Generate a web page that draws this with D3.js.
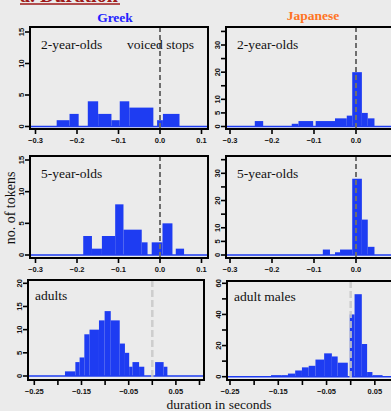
<!DOCTYPE html>
<html>
<head>
<meta charset="utf-8">
<script src="https://cdn.jsdelivr.net/npm/d3@7"></script>
<style>
  body { margin: 0; background: #ebebeb; }
  svg { display: block; }
</style>
</head>
<body>
<svg id="chart" width="391" height="411"></svg>
<script>
// bin edges in seconds (0 = release), counts = no. of tokens per bin
const greek2Edges = [-0.249, -0.218, -0.196, -0.174, -0.149, -0.117, -0.097, -0.074, -0.016, -0.007, 0.007, 0.047];
const greek2Counts = [1, 2, 0, 4, 2, 1, 4, 3, 0, 1, 2];

const japanese2Edges = [-0.241, -0.221, -0.153, -0.137, -0.102, -0.096, -0.05, -0.022, -0.009, 0.014, 0.028, 0.044];
const japanese2Counts = [2, 0, 1, 2, 0, 2, 3, 4, 20, 5, 3];

const greek5Edges = [-0.185, -0.164, -0.140, -0.108, -0.088, -0.044, -0.030, -0.020, 0.006, 0.030, 0.038, 0.058];
const greek5Counts = [3, 1, 3, 8, 4, 2, 0, 2, 5, 0, 1];

const japanese5Edges = [-0.079, -0.062, -0.05, -0.038, -0.009, 0.014, 0.028, 0.044];
const japanese5Counts = [2, 0, 1, 2, 28, 13, 3];

const greekAdultEdges = [-0.185, -0.163, -0.154, -0.144, -0.133, -0.113, -0.101, -0.088, -0.069, -0.058, -0.049, -0.042, -0.028, -0.017, 0.006, 0.024, 0.032];
const greekAdultCounts = [1, 3, 4, 9, 10, 12, 14, 12, 7, 5, 2, 3, 2, 0, 3, 2];

const japaneseAdultEdges = [-0.165, -0.144, -0.13, -0.115, -0.101, -0.087, -0.073, -0.055, -0.039, -0.027, -0.006, -0.002, 0.008, 0.023, 0.034, 0.045, 0.066];
const japaneseAdultCounts = [1, 1, 2, 4, 6, 7, 11, 15, 13, 9, 0, 40, 53, 21, 3, 1];

// axis ticks
const childXTicks = [-0.3, -0.2, -0.1, 0.0, 0.1];
const adultXTicks = [-0.25, -0.2, -0.15, -0.1, -0.05, 0, 0.05, 0.1];
const adultXLabels = [-0.25, -0.15, -0.05, 0.05];
const greekChildYTicks = [0, 5, 10, 15];
const japaneseChildYTicks = [0, 5, 10, 15, 20, 25, 30, 35];
const japaneseChildYLabels = [0, 5, 10, 20, 30];
const greekAdultYTicks = [0, 5, 10, 15, 20];
const japaneseAdultYTicks = [0, 10, 20, 30, 40, 50, 60];
const japaneseAdultYLabels = [0, 20, 40, 60];

const svg = d3.select('#chart');
const blue = '#1e3cf2';

// title (mostly cut off at the top, as in the source)
svg.append('text')
  .attr('x', 20).attr('y', 2)
  .attr('font-family', 'Liberation Serif, serif')
  .attr('font-weight', 'bold')
  .attr('font-size', 20)
  .attr('fill', '#9e1a1a')
  .text('a. Duration');
svg.append('line')
  .attr('x1', 20).attr('x2', 120).attr('y1', 4).attr('y2', 4)
  .attr('stroke', '#9e1a1a').attr('stroke-width', 1.5);

// column headers
svg.append('text')
  .attr('x', 115).attr('y', 22)
  .attr('text-anchor', 'middle')
  .attr('font-family', 'Liberation Serif, serif')
  .attr('font-weight', 'bold').attr('font-size', 13.5)
  .attr('fill', '#2222ff')
  .text('Greek');
svg.append('text')
  .attr('x', 313).attr('y', 20)
  .attr('text-anchor', 'middle')
  .attr('font-family', 'Liberation Serif, serif')
  .attr('font-weight', 'bold').attr('font-size', 13.5)
  .attr('fill', '#ff7424')
  .text('Japanese');

const panels = [
  {edges: greek2Edges, counts: greek2Counts, label: '2-year-olds', extra: 'voiced stops',
   fx: [30, 208], fy: [27, 129], xd: [-0.3, 0], xr: [35.5, 160], yd: [0, 15], yr: [126.5, 32],
   xTicks: childXTicks, xLabels: childXTicks, fmt: d3.format('.1f'),
   yTicks: greekChildYTicks, yLabels: greekChildYTicks, dash: '#6e6e6e', adult: false},
  {edges: japanese2Edges, counts: japanese2Counts, label: '2-year-olds',
   fx: [226, 400], fy: [27, 129], xd: [-0.3, 0], xr: [230, 356], yd: [0, 30], yr: [126.5, 45],
   xTicks: childXTicks, xLabels: childXTicks, fmt: d3.format('.1f'),
   yTicks: japaneseChildYTicks, yLabels: japaneseChildYLabels, dash: '#6e6e6e', adult: false},
  {edges: greek5Edges, counts: greek5Counts, label: '5-year-olds',
   fx: [30, 208], fy: [156, 258], xd: [-0.3, 0], xr: [35.5, 160], yd: [0, 15], yr: [255, 160],
   xTicks: childXTicks, xLabels: childXTicks, fmt: d3.format('.1f'),
   yTicks: greekChildYTicks, yLabels: greekChildYTicks, dash: '#6e6e6e', adult: false},
  {edges: japanese5Edges, counts: japanese5Counts, label: '5-year-olds',
   fx: [226, 400], fy: [156, 258], xd: [-0.3, 0], xr: [230, 356], yd: [0, 30], yr: [255, 173.3],
   xTicks: childXTicks, xLabels: childXTicks, fmt: d3.format('.1f'),
   yTicks: japaneseChildYTicks, yLabels: japaneseChildYLabels, dash: '#6e6e6e', adult: false},
  {edges: greekAdultEdges, counts: greekAdultCounts, label: 'adults',
   fx: [28, 204], fy: [280, 380], xd: [-0.25, 0], xr: [34.3, 152.3], yd: [0, 20], yr: [376, 283.3],
   xTicks: adultXTicks, xLabels: adultXLabels, fmt: d3.format('.2f'),
   yTicks: greekAdultYTicks, yLabels: greekAdultYTicks, dash: '#c8c8c8', adult: true},
  {edges: japaneseAdultEdges, counts: japaneseAdultCounts, label: 'adult males',
   fx: [227, 400], fy: [281, 380], xd: [-0.25, 0], xr: [230, 350.7], yd: [0, 60], yr: [376.7, 283.3],
   xTicks: adultXTicks, xLabels: adultXLabels, fmt: d3.format('.2f'),
   yTicks: japaneseAdultYTicks, yLabels: japaneseAdultYLabels, dash: '#c8c8c8', adult: true}
];

panels.forEach(p => {
  const x = d3.scaleLinear().domain(p.xd).range(p.xr);
  const y = d3.scaleLinear().domain(p.yd).range(p.yr);
  const g = svg.append('g');

  const bins = p.counts.map((c, i) => ({x0: p.edges[i], x1: p.edges[i + 1], n: c}))
    .filter(d => d.n > 0);

  // zero line of the histogram
  g.append('line')
    .attr('x1', p.fx[0]).attr('x2', p.fx[1])
    .attr('y1', y(0)).attr('y2', y(0))
    .attr('stroke', blue).attr('stroke-width', 1.6);

  g.selectAll('rect.bar')
    .data(bins)
    .enter().append('rect')
    .attr('class', 'bar')
    .attr('x', d => x(d.x0))
    .attr('width', d => x(d.x1) - x(d.x0))
    .attr('y', d => y(d.n))
    .attr('height', d => y(0) - y(d.n))
    .attr('fill', blue);

  // release line
  g.append('line')
    .attr('x1', x(0)).attr('x2', x(0))
    .attr('y1', p.fy[0]).attr('y2', p.fy[1])
    .attr('stroke', p.dash)
    .attr('stroke-width', p.adult ? 2.5 : 2)
    .attr('stroke-dasharray', p.adult ? '7,3' : '5,3')
    .attr('opacity', p.adult ? 0.85 : 1);

  // frame
  g.append('rect')
    .attr('x', p.fx[0]).attr('y', p.fy[0])
    .attr('width', p.fx[1] - p.fx[0]).attr('height', p.fy[1] - p.fy[0])
    .attr('fill', 'none').attr('stroke', '#000').attr('stroke-width', 2);

  // x ticks
  g.selectAll('line.xt')
    .data(p.xTicks.filter(t => x(t) <= 392))
    .enter().append('line')
    .attr('x1', d => x(d)).attr('x2', d => x(d))
    .attr('y1', p.fy[1]).attr('y2', p.fy[1] + 5)
    .attr('stroke', '#000').attr('stroke-width', 1.6);
  g.selectAll('text.xl')
    .data(p.xLabels.filter(t => x(t) <= 392))
    .enter().append('text')
    .attr('x', d => x(d))
    .attr('y', p.fy[1] + (p.adult ? 13.5 : 14))
    .attr('text-anchor', 'middle')
    .attr('font-family', 'Liberation Sans, Arial, sans-serif')
    .attr('font-weight', 'bold').attr('font-size', 7.5)
    .attr('fill', '#111')
    .text(d => p.fmt(d));

  // y ticks
  g.selectAll('line.yt')
    .data(p.yTicks)
    .enter().append('line')
    .attr('x1', p.fx[0] - 5).attr('x2', p.fx[0])
    .attr('y1', d => y(d)).attr('y2', d => y(d))
    .attr('stroke', '#000').attr('stroke-width', 1.6);
  g.selectAll('text.yl')
    .data(p.yLabels)
    .enter().append('text')
    .attr('transform', d => `translate(${p.fx[0] - 9},${y(d)}) rotate(-90)`)
    .attr('text-anchor', 'middle')
    .attr('dominant-baseline', 'central')
    .attr('font-family', 'Liberation Sans, Arial, sans-serif')
    .attr('font-weight', 'bold').attr('font-size', 7.5)
    .attr('fill', '#111')
    .text(d => d);

  // panel label
  g.append('text')
    .attr('x', p.fx[0] + (p.adult ? 7 : 11))
    .attr('y', p.fy[0] + (p.adult ? 20 : 22))
    .attr('font-family', 'Liberation Serif, serif')
    .attr('font-size', 13.5)
    .attr('fill', '#111')
    .text(p.label);
  if (p.extra) {
    g.append('text')
      .attr('x', p.fx[1] - 14)
      .attr('y', p.fy[0] + 22)
      .attr('text-anchor', 'end')
      .attr('font-family', 'Liberation Serif, serif')
      .attr('font-size', 13.5)
      .attr('fill', '#111')
      .text(p.extra);
  }
});

// axis titles
svg.append('text')
  .attr('transform', 'translate(15,208) rotate(-90)')
  .attr('text-anchor', 'middle')
  .attr('font-family', 'Liberation Serif, serif')
  .attr('font-size', 14)
  .attr('fill', '#111')
  .text('no. of tokens');
svg.append('text')
  .attr('x', 219).attr('y', 409)
  .attr('text-anchor', 'middle')
  .attr('font-family', 'Liberation Serif, serif')
  .attr('font-size', 13.5)
  .attr('fill', '#111')
  .text('duration in seconds');
</script>
</body>
</html>
